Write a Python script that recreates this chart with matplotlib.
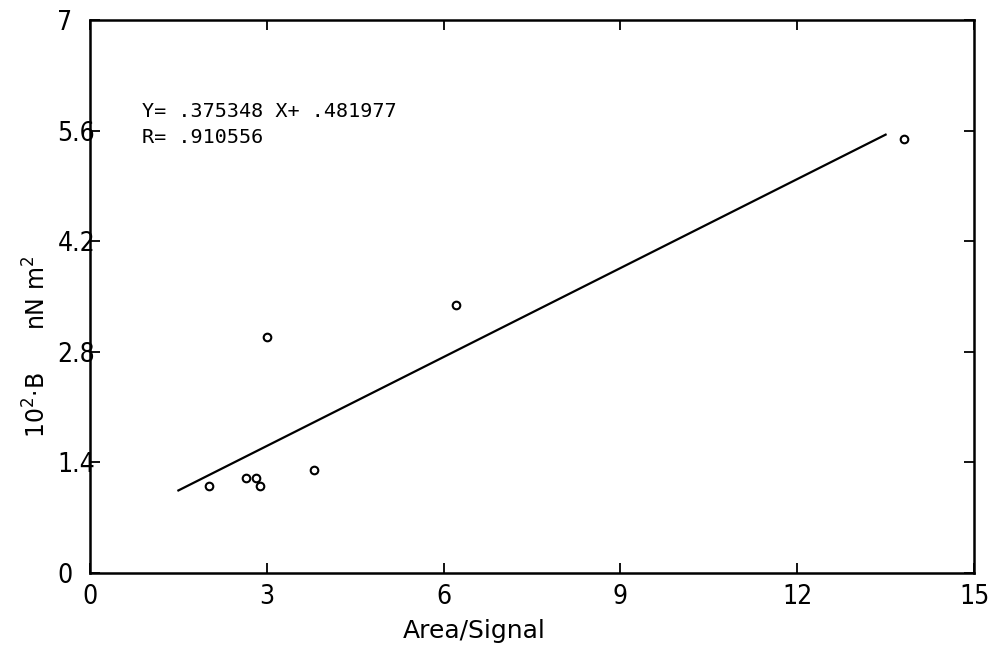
import matplotlib.pyplot as plt
import numpy as np

# values
area_signal = [2.02, 2.65, 2.82, 2.88, 3.00, 3.80, 6.21, 13.81]
b_values = [1.10, 1.20, 1.20, 1.10, 2.99, 1.30, 3.39, 5.49]
slope = 0.375348
intercept = 0.481977
r_value = 0.910556
fit_range = [1.5, 13.5]
x_ticks = [0, 3, 6, 9, 12, 15]
y_ticks = [0, 1.4, 2.8, 4.2, 5.6, 7]
y_tick_labels = ["0", "1.4", "2.8", "4.2", "5.6", "7"]


def main() -> None:
    plt.rcParams["font.family"] = ["DejaVu Sans"]
    fig = plt.figure(figsize=(10, 6.46), dpi=100)
    ax = fig.add_axes([0.09, 0.113, 0.884, 0.856])

    fx = np.array(fit_range)
    ax.plot(fx, slope * fx + intercept, color="black", lw=1.6)
    ax.scatter(area_signal, b_values, s=30, facecolors="white",
               edgecolors="black", linewidths=1.5, zorder=3)

    ax.set_xlim(0, 15)
    ax.set_ylim(0, 7)
    ax.set_xticks(x_ticks)
    ax.set_yticks(y_ticks)
    ax.set_yticklabels(y_tick_labels)
    for s in ax.spines.values():
        s.set_linewidth(1.8)

    ax.tick_params(direction="in", length=7, width=1.3, top=True, right=True,
                   labelsize=19)
    ax.tick_params(axis="x", pad=8)
    ax.tick_params(axis="y", pad=23.5)
    for lbl in ax.get_xticklabels() + ax.get_yticklabels():
        lbl.set_fontstretch("condensed")
    for lbl in ax.get_yticklabels():
        lbl.set_horizontalalignment("left")

    ax.text(0.059, 0.834, f"Y= .{str(slope)[2:]} X+ .{str(intercept)[2:]}",
            transform=ax.transAxes, family="DejaVu Sans Mono", fontsize=14.5,
            va="center")
    ax.text(0.059, 0.788, f"R= .{str(r_value)[2:]}",
            transform=ax.transAxes, family="DejaVu Sans Mono", fontsize=14.5,
            va="center")

    fig.text(0.474, 1 - 631 / 646, "Area/Signal", fontsize=18,
             ha="center", va="center")
    fig.text(0.037, 1 - 405 / 646, r"$\mathregular{10^2}$·B", fontsize=17,
             rotation=90, ha="center", va="center")
    fig.text(0.037, 1 - 293 / 646, r"nN m$\mathregular{^2}$", fontsize=17,
             rotation=90, ha="center", va="center")

    plt.savefig("out.png", dpi=100)


if __name__ == "__main__":
    main()
